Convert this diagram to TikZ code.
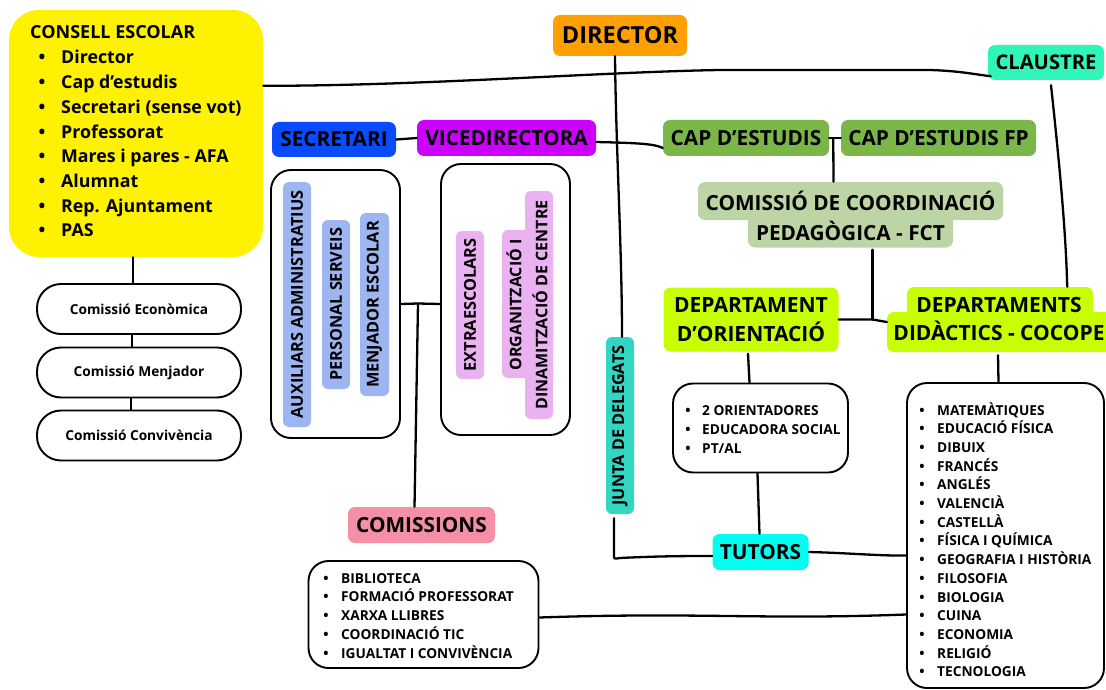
\documentclass[tikz,border=0pt]{standalone}
\usepackage{fontspec}
\setmainfont{Open Sans}
\usepackage{graphicx}
\usetikzlibrary{calc}
\definecolor{cyel}{HTML}{FFF200}
\definecolor{corange}{HTML}{FFA000}
\definecolor{cmint}{HTML}{30F5B8}
\definecolor{cblue}{HTML}{0A4BFF}
\definecolor{cmag}{HTML}{CC00FF}
\definecolor{cgreen}{HTML}{7AB648}
\definecolor{clgreen}{HTML}{BDD4A4}
\definecolor{clime}{HTML}{C8FF00}
\definecolor{cteal}{HTML}{33D6C3}
\definecolor{ccyan}{HTML}{00FFF0}
\definecolor{cpink}{HTML}{F48FA6}
\definecolor{clblue}{HTML}{9DB6F2}
\definecolor{clpink}{HTML}{EBB2F2}
\tikzset{
 hdr/.style={rounded corners=7pt, inner sep=0pt, font=\bfseries\fontsize{20.8}{24}\selectfont, align=center},
 wbox/.style={draw=black, line width=1.9pt, fill=white, rounded corners=20pt, inner sep=0pt},
 vtag/.style={rounded corners=6pt, inner sep=0pt, font=\bfseries\fontsize{16.3}{19}\selectfont},
 conn/.style={line width=2.3pt, line cap=round, line join=round},
 litem/.style={anchor=base west, inner sep=0pt, font=\bfseries\fontsize{13.7}{16}\selectfont},
 bul/.style={anchor=base, inner sep=0pt, font=\bfseries\fontsize{14}{16}\selectfont},
 cbox/.style={draw=black, line width=1.9pt, fill=white, rounded corners=24pt, inner sep=0pt, minimum width=204pt, minimum height=50pt, font=\bfseries\fontsize{13.7}{16}\selectfont},
}
\begin{document}
\begin{tikzpicture}[x=1pt,y=-1pt]
\useasboundingbox (0,0) rectangle (1106,690);
\fill[white] (0,0) rectangle (1106,690);

% ---------- Consell escolar
\node[fill=cyel, rounded corners=30pt, inner sep=0pt, minimum width=254pt, minimum height=247pt] (consell) at (136,133.5) {};
\node[anchor=base west, inner sep=0pt, font=\bfseries\fontsize{18}{20}\selectfont] (consellh) at (30,39) {CONSELL ESCOLAR};
\foreach \t [count=\i] in {Director,Cap d’estudis,Secretari (sense vot),Professorat,Mares i pares - AFA,Alumnat,Rep. Ajuntament,PAS}{
  \node[anchor=base west, inner sep=0pt, font=\bfseries\fontsize{17.8}{20}\selectfont] (cs\i) at (61,{64+24.7*(\i-1)}) {\t};
  \node[anchor=base, inner sep=0pt, font=\bfseries\fontsize{18}{20}\selectfont] (csb\i) at (42,{64+24.7*(\i-1)}) {•};
}

% ---------- Comissions of consell
\node[cbox] (econ) at (139,309) {Comissió Econòmica};
\node[cbox] (menj) at (139,372.5) {Comissió Menjador};
\node[cbox] (conv) at (139,435.5) {Comissió Convivència};

% ---------- Headers
\node[hdr, fill=corange, minimum width=134pt, minimum height=41pt, font=\bfseries\fontsize{23.5}{26}\selectfont] (director) at (620,35.5) {DIRECTOR};
\node[hdr, fill=cmint, minimum width=116pt, minimum height=35pt, font=\bfseries\fontsize{20.2}{22}\selectfont] (claustre) at (1046,62.5) {CLAUSTRE};
\node[hdr, fill=cblue, minimum width=124pt, minimum height=35pt] (sec) at (334,139.5) {SECRETARI};
\node[hdr, fill=cmag, minimum width=179pt, minimum height=36pt] (vice) at (506.5,138) {VICEDIRECTORA};
\node[hdr, fill=cgreen, minimum width=166pt, minimum height=36pt] (cap) at (746,138) {CAP D’ESTUDIS};
\node[hdr, fill=cgreen, minimum width=195pt, minimum height=36pt] (capfp) at (938.5,138) {CAP D’ESTUDIS FP};

% CCP (two-part shape)
\node[hdr, fill=clgreen, minimum width=205pt, minimum height=33pt] (ccplow) at (850.5,231) {};
\node[hdr, fill=clgreen, minimum width=305pt, minimum height=38pt] (ccpup) at (850.5,201) {COMISSIÓ DE COORDINACIÓ};
\node[inner sep=0pt, font=\bfseries\fontsize{20.8}{24}\selectfont] (ccpt) at (850.5,231) {PEDAGÒGICA - FCT};

% Departament d'orientació
\node[hdr, fill=clime, minimum width=175pt, minimum height=64pt, font=\bfseries\fontsize{21}{29}\selectfont] (orient) at (751,319.5) {DEPARTAMENT\\D’ORIENTACIÓ};

% Departaments didàctics (two-part shape)
\node[hdr, fill=clime, minimum width=186pt, minimum height=30pt] (didup) at (1000,302) {};
\node[hdr, fill=clime, minimum width=228pt, minimum height=40pt] (diddown) at (1001,332) {};
\node[inner sep=0pt, align=center, font=\bfseries\fontsize{21}{28}\selectfont] (didt) at (999,319) {DEPARTAMENTS\\DIDÀCTICS - COCOPE};

% Junta, tutors, comissions
\node[vtag, fill=cteal, minimum width=28pt, minimum height=177pt] (junta) at (620,425.5) {\rotatebox{90}{JUNTA DE DELEGATS}};
\node[hdr, fill=ccyan, minimum width=96pt, minimum height=36pt] (tutors) at (760.5,552) {TUTORS};
\node[hdr, fill=cpink, minimum width=147pt, minimum height=36pt] (comissions) at (421.5,525) {COMISSIONS};

% ---------- Secretari staff box
\node[wbox, minimum width=129pt, minimum height=268pt] (secbox) at (335.5,304) {};
\node[vtag, fill=clblue, minimum width=28pt, minimum height=245pt] (aux) at (297,304.5) {\rotatebox{90}{AUXILIARS ADMINISTRATIUS}};
\node[vtag, fill=clblue, minimum width=28pt, minimum height=169pt] (pers) at (336,304.5) {\rotatebox{90}{PERSONAL SERVEIS}};
\node[vtag, fill=clblue, minimum width=29pt, minimum height=183pt] (menjesc) at (374.5,304.5) {\rotatebox{90}{MENJADOR ESCOLAR}};

% ---------- Vicedirectora box
\node[wbox, minimum width=129pt, minimum height=271pt] (vicebox) at (505.5,299.5) {};
\node[vtag, fill=clpink, minimum width=28pt, minimum height=148pt] (extra) at (470,305) {\rotatebox{90}{EXTRAESCOLARS}};
\node[vtag, fill=clpink, minimum width=51pt, minimum height=148pt] (orgA) at (527.5,304) {};
\node[vtag, fill=clpink, minimum width=28pt, minimum height=228pt] (orgB) at (539,305) {};
\node[rotate=90, inner sep=0pt, align=center, font=\bfseries\fontsize{16}{26}\selectfont] (orgt) at (527,305) {ORGANITZACIÓ I\\DINAMITZACIÓ DE CENTRE};

% ---------- Lists
\node[wbox, minimum width=175pt, minimum height=89pt] (orientlist) at (760.5,428) {};
\foreach \t [count=\i] in {2 ORIENTADORES,EDUCADORA SOCIAL,PT/AL}{
  \node[litem] (ol\i) at (702,{415+19*(\i-1)}) {\t};
  \node[bul] (olb\i) at (688,{415+19*(\i-1)}) {•};
}
\node[wbox, minimum width=197pt, minimum height=305pt] (didlist) at (1005.5,535.5) {};
\foreach \t [count=\i] in {MATEMÀTIQUES,EDUCACIÓ FÍSICA,DIBUIX,FRANCÉS,ANGLÉS,VALENCIÀ,CASTELLÀ,FÍSICA I QUÍMICA,GEOGRAFIA I HISTÒRIA,FILOSOFIA,BIOLOGIA,CUINA,ECONOMIA,RELIGIÓ,TECNOLOGIA}{
  \node[litem] (dl\i) at (937,{415+18.7*(\i-1)}) {\t};
  \node[bul] (dlb\i) at (922,{415+18.7*(\i-1)}) {•};
}
\node[wbox, minimum width=230pt, minimum height=107pt] (comlist) at (423.5,614.5) {};
\foreach \t [count=\i] in {BIBLIOTECA,FORMACIÓ PROFESSORAT,XARXA LLIBRES,COORDINACIÓ TIC,IGUALTAT I CONVIVÈNCIA}{
  \node[litem] (cl\i) at (341,{583+18.75*(\i-1)}) {\t};
  \node[bul] (clb\i) at (326,{583+18.75*(\i-1)}) {•};
}

% ---------- Connectors
\draw[conn] ($(consell.north east)+(0,76)$) .. controls (420,86) and (600,72) .. (720,70) -- (930,70) .. controls (962,71) and (978,75) .. ($(claustre.south west)+(3,-4)$);
\draw[conn] ($(director.south)+(-5,0)$) .. controls (616,150) and (622,250) .. ($(junta.north)+(2,0)$);
\coordinate (jc) at (614,559);
\draw[conn] ($(junta.south)+(-6,4)$) -- ($(jc)+(0,-4)$) .. controls (jc) .. ($(jc)+(6,-1)$) .. controls (660,556) and (690,556) .. ($(tutors.west)+(0,4)$);
\draw[conn] (tutors.east) .. controls (850,553) and (880,556) .. ($(didlist.west)+(0,20)$);
\draw[conn] ($(orientlist.south)+(-3,0)$) -- ($(tutors.north)+(-1,0)$);
\draw[conn] ($(orient.south)+(-3,2)$) -- ($(orientlist.north)+(-11,0)$);
\draw[conn] ($(diddown.south)+(-3,3)$) -- ($(didlist.north)+(-7,0)$);
\draw[conn] ($(claustre.south)+(5,5)$) .. controls (1058,150) and (1066,230) .. ($(didup.north east)+(-26,0)$);
\coordinate (odj) at ($(ccplow.south)+(22,0)$);
\draw[conn] (orient.east) -- (odj |- orient.east) -- ($(diddown.west)+(0,-10)$);
\draw[conn] ($(odj)+(0,2)$) -- (odj |- orient.east);
\draw[conn] (cap.east) -- (capfp.west);
\draw[conn] ($(cap.east)!0.35!(capfp.west)$) -- ($(ccpup.north)+(-17,0)$);
\draw[conn] ($(vice.east)+(0,4)$) .. controls (640,143) and (655,144) .. ($(cap.west)+(0,10)$);
\draw[conn] (sec.east) -- (vice.west);
\coordinate (sj) at (418,303.5);
\draw[conn] (secbox.east) -- (sj) -- ($(vicebox.west)+(0,4.5)$);
\draw[conn] (sj) -- ($(comissions.north)+(-7,0)$);
\draw[conn] ($(consell.south)+(-3,0)$) -- ($(econ.north)+(-6,0)$);
\draw[conn] ($(econ.south)+(-7,0)$) -- ($(menj.north)+(-7,0)$);
\draw[conn] ($(menj.south)+(-8,0)$) -- ($(conv.north)+(-8,0)$);
\draw[conn] ($(comlist.east)+(0,3)$) .. controls (700,612) and (760,620) .. ($(didlist.west)+(0,79)$);
\end{tikzpicture}
\end{document}
